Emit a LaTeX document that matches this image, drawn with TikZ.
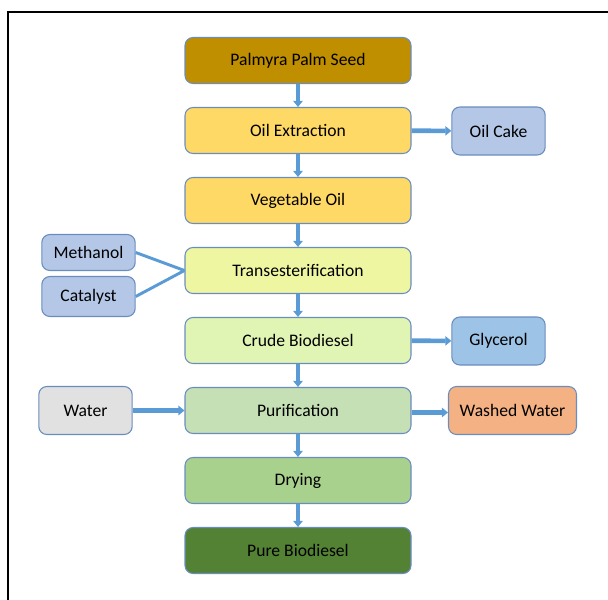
\documentclass[tikz,border=0pt]{standalone}
\usepackage{fontspec}
\setmainfont{Carlito}
\usepackage{tikz}
\usetikzlibrary{arrows.meta}

\definecolor{seedcol}{HTML}{BF8F00}
\definecolor{oilcol}{HTML}{FFD966}
\definecolor{transcol}{HTML}{EFF6A2}
\definecolor{crudecol}{HTML}{E0F4B4}
\definecolor{purecol}{HTML}{C5E0B4}
\definecolor{drycol}{HTML}{A9D18E}
\definecolor{finalcol}{HTML}{548235}
\definecolor{sidecol}{HTML}{B4C7E7}
\definecolor{glycol}{HTML}{9DC3E6}
\definecolor{watercol}{HTML}{E1E1E1}
\definecolor{washcol}{HTML}{F4B183}
\definecolor{edgecol}{HTML}{6A8DBF}
\definecolor{arrowcol}{HTML}{5B9BD5}

\begin{document}
\begin{tikzpicture}[x=0.75pt,y=-0.75pt,
	every node/.style={draw=edgecol,line width=0.8pt,rounded corners=6pt,inner sep=2pt,
		font=\fontsize{13.2}{15}\selectfont,text=black},
	mainbox/.style={minimum width=169.5pt,minimum height=34.5pt},
	sidebox/.style={minimum width=70pt,minimum height=36pt},
	flow/.style={draw=arrowcol,line width=3.5pt,-{Triangle[width=7pt,length=4.5pt]}},
	link/.style={draw=arrowcol,line width=2.2pt}]
\useasboundingbox (0,0) rectangle (608,600);

%frame
\draw[line width=1.5pt] (8,600) -- (8,11.5) -- (608,11.5);

%main column
\foreach \n/\txt/\col [count=\i] in {seed/Palmyra Palm Seed/seedcol,
	ext/Oil Extraction/oilcol, veg/Vegetable Oil/oilcol,
	trans/Transesterification/transcol, crude/Crude Biodiesel/crudecol,
	pur/Purification/purecol, dry/Drying/drycol, bio/Pure Biodiesel/finalcol}{
	\pgfmathsetmacro{\pos}{60.5+70*(\i-1)}
	\node[mainbox,fill=\col] (\n) at (298,\pos) {\txt};
}

%side boxes
\node[sidebox,fill=sidecol] (cake) at (498.5,131) {Oil Cake};
\node[sidebox,fill=sidecol,minimum height=27pt] (meth) at (88.5,252.5) {Methanol};
\node[sidebox,fill=sidecol,minimum height=30pt] (cat) at (88.5,296.5) {Catalyst};
\node[sidebox,fill=glycol] (gly) at (498.5,341) {Glycerol};
\node[sidebox,fill=watercol] (water) at (85.5,410.5) {Water};
\node[sidebox,fill=washcol,minimum width=96pt] (wash) at (512.5,410.5) {Washed Water};

%arrows
\foreach \a/\b in {seed/ext,ext/veg,veg/trans,trans/crude,crude/pur,pur/dry,dry/bio}{
	\draw[flow] (\a) -- (\b);
}
\draw[flow] (ext) -- (cake);
\draw[flow] (crude) -- (gly);
\draw[flow] (water) -- (pur);
\draw[flow] (pur.east) ++(0,2) -- (wash.west |- 0,412.5);
\draw[link] (meth.east) -- (trans.west);
\draw[link] (cat.east) -- (trans.west);

\end{tikzpicture}
\end{document}
